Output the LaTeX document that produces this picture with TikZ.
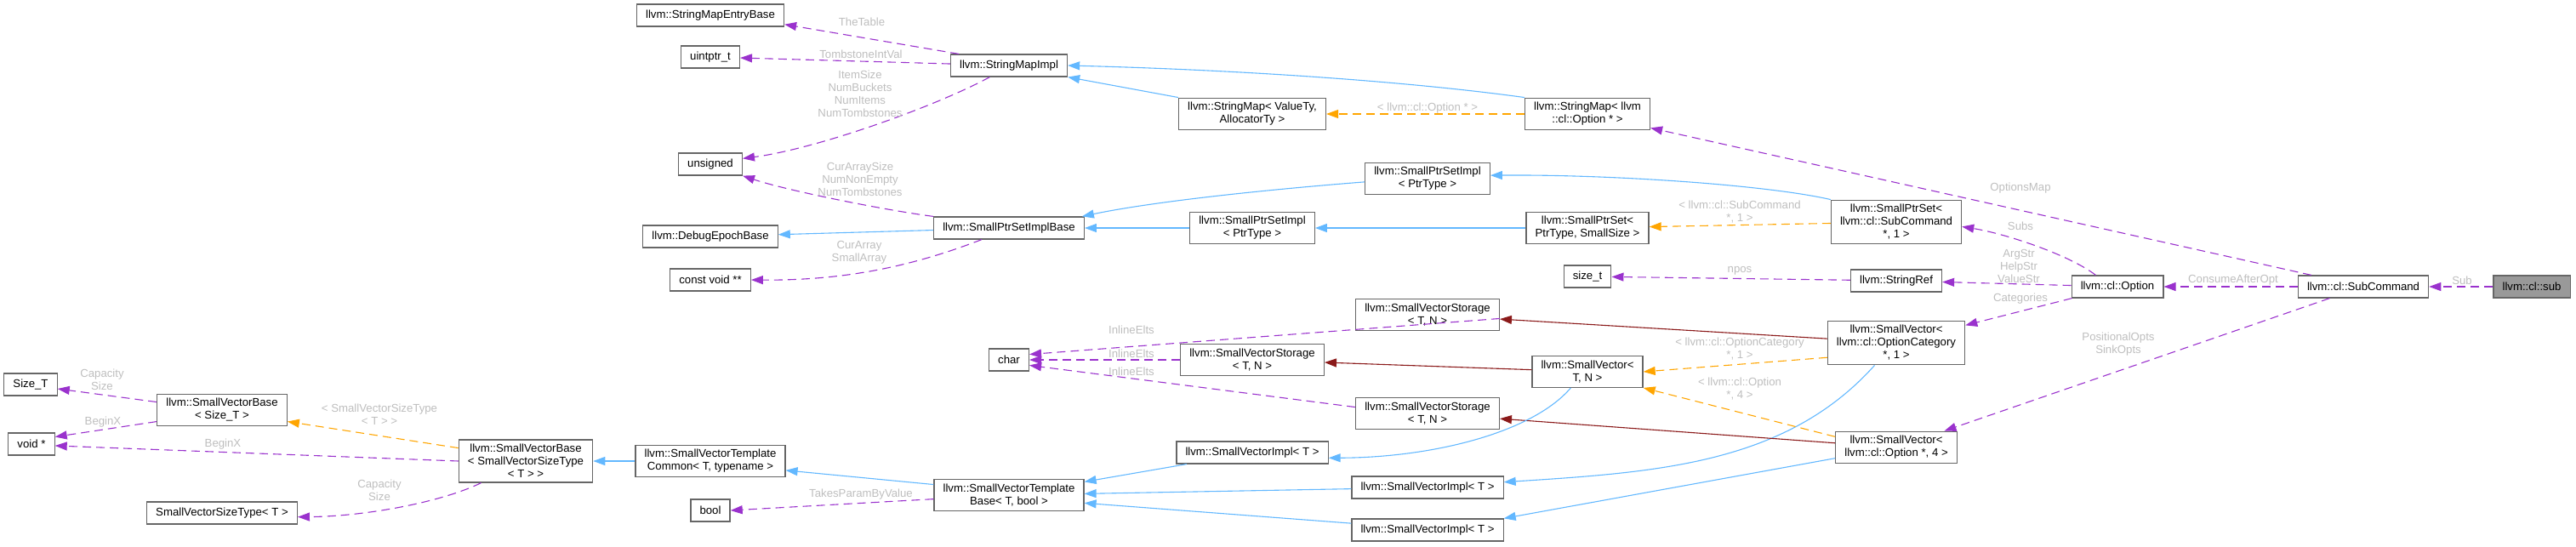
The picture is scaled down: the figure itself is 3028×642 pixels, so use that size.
\documentclass[tikz,border=0pt]{standalone}
\usepackage{fontspec}
\setmainfont{Liberation Sans}
\usetikzlibrary{arrows.meta}
\definecolor{inhblue}{HTML}{63B8FF}
\definecolor{usepurple}{HTML}{9A32CD}
\definecolor{tmplorange}{HTML}{FFA500}
\definecolor{privred}{HTML}{8B1A1A}
\definecolor{boxgray}{HTML}{666666}
\definecolor{lblgray}{HTML}{BEBEBE}
\definecolor{curgray}{HTML}{999999}

\begin{document}
\begin{tikzpicture}[x=0.5pt, y=-0.5pt,
      cls/.style={draw=boxgray, fill=white, line width=0.6pt, align=center,
                  font=\fontsize{6.6}{7.5}\selectfont, inner xsep=5.3pt, inner ysep=2.6pt,
                  minimum height=13pt},
      cur/.style={cls, fill=curgray},
      lbl/.style={font=\fontsize{6.6}{7.5}\selectfont, text=lblgray, align=center, inner sep=0pt},
      arr/.style={-{Stealth[length=7pt, width=5pt, inset=0pt]}, line width=0.55pt},
      uses/.style={arr, usepurple, dash pattern=on 5pt off 3pt},
      tmpl/.style={arr, tmplorange, dash pattern=on 5pt off 3pt},
      inherit/.style={arr, inhblue},
      priv/.style={arr, privred}
    ]
      \useasboundingbox (0,0) rectangle (3028,642);

      % right part
      \node[cur] (sub) at (2976,337) {llvm::cl::sub};
      \node[cls] (subcmd) at (2778,337) {llvm::cl::SubCommand};
      \node[cls] (opt) at (2489,337) {llvm::cl::Option};
      \node[cls] (spsc) at (2229,261) {llvm::SmallPtrSet<\\ llvm::cl::SubCommand\\ *, 1 >};
      \node[cls] (strref) at (2229,330) {llvm::StringRef};
      \node[cls] (svoc) at (2229,403) {llvm::SmallVector<\\ llvm::cl::OptionCategory\\ *, 1 >};
      \node[cls] (svopt) at (2229,526) {llvm::SmallVector<\\ llvm::cl::Option *, 4 >};
      \node[cls] (smopt) at (1866,134) {llvm::StringMap< llvm\\ ::cl::Option * >};
      \node[cls] (spsps) at (1866,268) {llvm::SmallPtrSet<\\ PtrType, SmallSize >};
      \node[cls] (sizet) at (1866,325) {size\_t};
      \node[cls] (svtn) at (1866,437) {llvm::SmallVector<\\ T, N >};

      % middle part
      \node[cls] (spsiu) at (1678,210) {llvm::SmallPtrSetImpl\\ < PtrType >};
      \node[cls] (svsa) at (1678,370) {llvm::SmallVectorStorage\\ < T, N >};
      \node[cls] (svsc) at (1678,486) {llvm::SmallVectorStorage\\ < T, N >};
      \node[cls] (svib) at (1678,573) {llvm::SmallVectorImpl< T >};
      \node[cls] (svic) at (1678,623) {llvm::SmallVectorImpl< T >};
      \node[cls] (smva) at (1472,134) {llvm::StringMap< ValueTy,\\ AllocatorTy >};
      \node[cls] (spsil) at (1472,268) {llvm::SmallPtrSetImpl\\ < PtrType >};
      \node[cls] (svsb) at (1472,423) {llvm::SmallVectorStorage\\ < T, N >};
      \node[cls] (svia) at (1472,532) {llvm::SmallVectorImpl< T >};
      \node[cls] (smimpl) at (1186,77) {llvm::StringMapImpl};
      \node[cls] (spsib) at (1186,268) {llvm::SmallPtrSetImplBase};
      \node[cls] (chr) at (1186,423) {char};
      \node[cls] (svtb) at (1186,582) {llvm::SmallVectorTemplate\\ Base< T, bool >};

      % left part
      \node[cls] (smeb) at (835,18) {llvm::StringMapEntryBase};
      \node[cls] (uintp) at (835,67) {uintptr\_t};
      \node[cls] (unsgn) at (835,193) {unsigned};
      \node[cls] (debug) at (835,278) {llvm::DebugEpochBase};
      \node[cls] (cvoid) at (835,329) {const void **};
      \node[cls] (svtc) at (835,542) {llvm::SmallVectorTemplate\\ Common< T, typename >};
      \node[cls] (boolt) at (835,600) {bool};
      \node[cls] (svbsvst) at (618,542) {llvm::SmallVectorBase\\ < SmallVectorSizeType\\ < T > >};
      \node[cls] (svbsize) at (261,482) {llvm::SmallVectorBase\\ < Size\_T >};
      \node[cls] (svst) at (261,603) {SmallVectorSizeType< T >};
      \node[cls] (sizeT) at (36,452) {Size\_T};
      \node[cls] (voidp) at (37,522) {void *};

      \draw[uses] (sub) -- (subcmd);
      \draw[uses] (subcmd) -- (opt);
      \draw[uses] (subcmd) -- (smopt);
      \draw[uses] (subcmd) -- (svopt);
      \draw[uses] (opt.152) .. controls (2433,300) and (2359,275) .. (spsc.-4);
      \draw[uses] (opt) -- (strref);
      \draw[uses] (opt) -- (svoc);
      \draw[uses] (strref) -- (sizet);
      \draw[tmpl] (spsc) -- (spsps);
      \draw[inherit] (spsc.north west) .. controls (2080,218) and (1900,205) .. (spsiu.3);
      \draw[inherit] (spsps) -- (spsil);
      \draw[inherit] (spsiu.183) .. controls (1500,222) and (1360,236) .. (spsib.9);
      \draw[inherit] (spsil) -- (spsib);
      \draw[inherit] (spsib) -- (debug);
      \draw[uses] (spsib.north west) .. controls (1040,247) and (925,224) .. (unsgn.south east);
      \draw[uses] (spsib.-157) .. controls (1080,310) and (1000,330) .. (cvoid.east);
      \draw[uses] (smimpl.167) -- (smeb.-7);
      \draw[uses] (smimpl) -- (uintp);
      \draw[uses] (smimpl.-149) .. controls (1100,125) and (960,175) .. (unsgn.10);
      \draw[inherit] (smva.north west) -- (smimpl.south east);
      \draw[inherit] (smopt.north west) .. controls (1650,95) and (1450,82) .. (smimpl.east);
      \draw[tmpl] (smopt) -- (smva);
      \draw[priv] (svoc) -- (svsa);
      \draw[tmpl] (svoc.192) -- (svtn.east);
      \draw[inherit] (svoc.-134) .. controls (2100,545) and (1950,555) .. (svib.4);
      \draw[tmpl] (svopt.170) -- (svtn.south east);
      \draw[priv] (svopt) -- (svsc);
      \draw[inherit] (svopt.-170) -- (svic.north east);
      \draw[priv] (svtn) -- (svsb);
      \draw[inherit] (svtn.-136) .. controls (1800,510) and (1680,538) .. (svia.-4);
      \draw[uses] (svsa.-3) -- (chr.15);
      \draw[uses] (svsb) -- (chr);
      \draw[uses] (svsc.175) -- (chr.-15);
      \draw[inherit] (svia.-170) -- (svtb.10);
      \draw[inherit] (svib) -- (svtb);
      \draw[inherit] (svic.175) -- (svtb.-6);
      \draw[inherit] (svtb.172) -- (svtc.-7);
      \draw[uses] (svtb.-177) -- (boolt.east);
      \draw[inherit] (svtc) -- (svbsvst);
      \draw[tmpl] (svbsvst.169) -- (svbsize.-10);
      \draw[uses] (svbsvst.west) -- (voidp.-4);
      \draw[uses] (svbsvst.-154) .. controls (520,590) and (430,607) .. (svst.-3);
      \draw[uses] (svbsize.173) -- (sizeT.-9);
      \draw[uses] (svbsize.-170) -- (voidp.17);

      % Labels
      \node[lbl] (l1) at (2894,330) {Sub};
      \node[lbl] (l2) at (2625,329) {ConsumeAfterOpt};
      \node[lbl] (l3) at (2375,221) {OptionsMap};
      \node[lbl] (l4) at (2490,405) {PositionalOpts\\SinkOpts};
      \node[lbl] (l5) at (2375,266) {Subs};
      \node[lbl] (l6) at (2373,313) {ArgStr\\HelpStr\\ValueStr};
      \node[lbl] (l7) at (2375,351) {Categories};
      \node[lbl] (l8) at (2045,318) {npos};
      \node[lbl] (l9) at (2045,249) {< llvm::cl::SubCommand\\ *, 1 >};
      \node[lbl] (l10) at (1678,127) {< llvm::cl::Option * >};
      \node[lbl] (l11) at (2045,410) {< llvm::cl::OptionCategory\\ *, 1 >};
      \node[lbl] (l12) at (2045,457) {< llvm::cl::Option\\ *, 4 >};
      \node[lbl] (l13) at (1330,388) {InlineElts};
      \node[lbl] (l14) at (1330,416) {InlineElts};
      \node[lbl] (l15) at (1330,437) {InlineElts};
      \node[lbl] (l16) at (1013,26) {TheTable};
      \node[lbl] (l17) at (1012,64) {TombstoneIntVal};
      \node[lbl] (l18) at (1011,110) {ItemSize\\NumBuckets\\NumItems\\NumTombstones};
      \node[lbl] (l19) at (1011,211) {CurArraySize\\NumNonEmpty\\NumTombstones};
      \node[lbl] (l20) at (1010,297) {CurArray\\SmallArray};
      \node[lbl] (l21) at (1012,581) {TakesParamByValue};
      \node[lbl] (l22) at (446,487) {< SmallVectorSizeType\\< T > >};
      \node[lbl] (l23) at (262,522) {BeginX};
      \node[lbl] (l24) at (446,576) {Capacity\\Size};
      \node[lbl] (l25) at (120,446) {Capacity\\Size};
      \node[lbl] (l26) at (121,496) {BeginX};
    \end{tikzpicture}
\end{document}
